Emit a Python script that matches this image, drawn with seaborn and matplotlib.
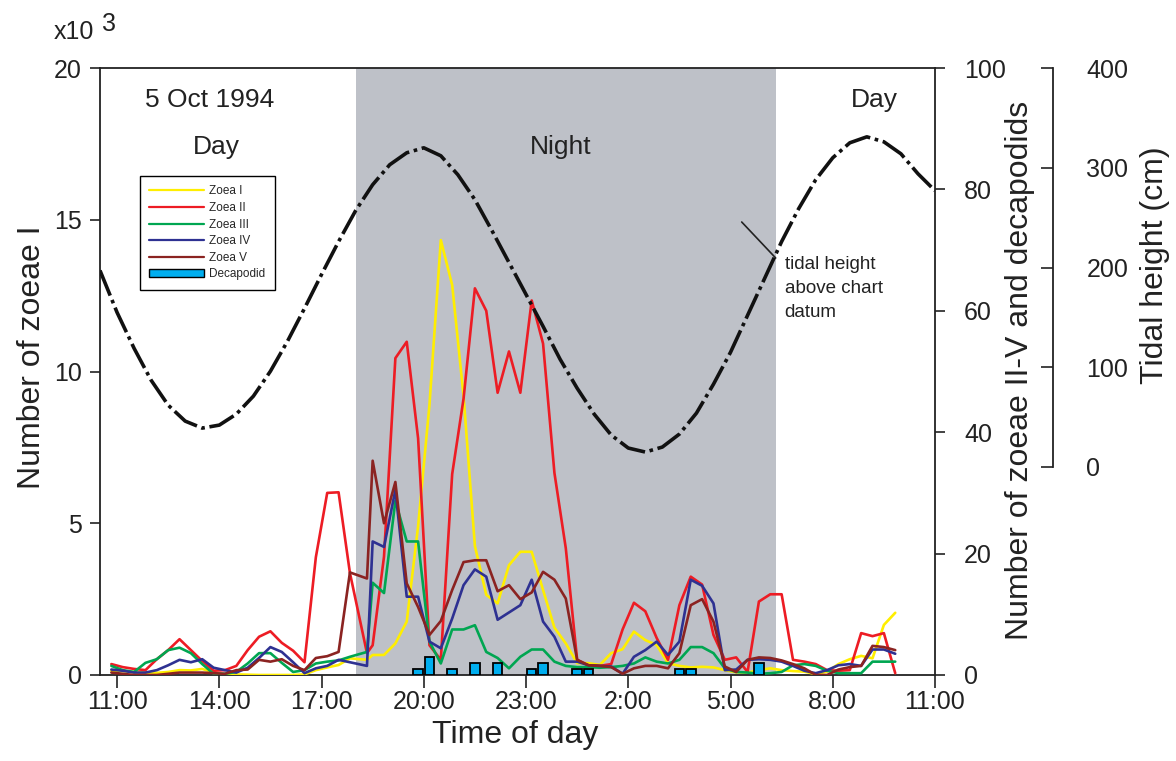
import numpy as np
import pandas as pd
import matplotlib
matplotlib.use("Agg")
import matplotlib.pyplot as plt
from matplotlib.lines import Line2D
from matplotlib.patches import Patch
import seaborn as sns

# ---- sampling times (5-6 Oct 1994) ----
sample_times = [
    "10:50", "11:10", "11:30", "11:50", "12:10", "12:30", "12:50", "13:10", "13:30", "13:50",
    "14:10", "14:30", "14:50", "15:10", "15:30", "15:50", "16:10", "16:30", "16:50", "17:10",
    "17:30", "17:50", "18:20", "18:30", "18:50", "19:10", "19:30", "19:50", "20:10", "20:30",
    "20:50", "21:10", "21:30", "21:50", "22:10", "22:30", "22:50", "23:10", "23:30", "23:50",
    "0:10", "0:30", "0:50", "1:10", "1:30", "1:50", "2:10", "2:30", "2:50", "3:10",
    "3:30", "3:50", "4:10", "4:30", "4:50", "5:10", "5:30", "5:50", "6:10", "6:30",
    "6:50", "7:10", "7:30", "7:50", "8:10", "8:30", "8:50", "9:10", "9:30", "9:50",
]

# Zoea I, thousands per sample (left axis)
zoea_1 = [
    0.14, 0.13, 0.10, 0.08, 0.07, 0.10, 0.16, 0.15, 0.20, 0.08,
    0.02, 0.02, 0.01, 0.00, 0.00, 0.00, 0.00, 0.02, 0.16, 0.25,
    0.33, 0.55, 0.50, 0.66, 0.66, 1.04, 1.76, 4.90, 8.90, 14.33,
    12.85, 9.20, 4.25, 2.64, 2.36, 3.62, 4.06, 4.06, 2.80, 1.56,
    1.04, 0.39, 0.39, 0.33, 0.72, 0.85, 1.43, 1.15, 0.99, 0.39,
    0.30, 0.25, 0.27, 0.25, 0.16, 0.09, 0.08, 0.16, 0.22, 0.16,
    0.13, 0.11, 0.03, 0.11, 0.36, 0.52, 0.63, 0.55, 1.65, 2.05,
]

# Zoea II-V and decapodids, numbers per sample (right axis)
zoea_2 = [
    1.8, 1.3, 1.0, 0.8, 2.6, 4.1, 5.9, 4.1, 2.3, 0.7,
    0.8, 1.5, 4.1, 6.3, 7.2, 5.3, 4.0, 2.1, 19.4, 30.0,
    30.1, 16.8, 3.6, 4.9, 19.5, 52.2, 54.9, 39.0, 4.9, 2.5,
    33.1, 45.5, 63.7, 60.0, 46.5, 53.3, 46.5, 61.7, 54.6, 33.3,
    20.9, 2.5, 1.6, 1.5, 1.8, 7.5, 11.9, 10.5, 6.1, 2.5,
    11.5, 16.2, 14.9, 6.6, 2.5, 2.9, 0.5, 12.1, 13.3, 13.3,
    2.5, 2.2, 1.8, 0.8, 0.7, 0.8, 6.9, 6.4, 6.9, 0.3,
]
zoea_3 = [
    1.5, 0.8, 0.5, 2.0, 2.6, 4.1, 4.5, 3.6, 1.8, 0.2,
    0.2, 0.5, 1.9, 3.6, 3.6, 2.0, 0.5, 0.8, 1.9, 2.2,
    2.4, 3.0, 3.8, 15.2, 13.5, 28.7, 22.0, 22.0, 5.5, 1.9,
    7.5, 7.5, 8.2, 3.8, 2.8, 1.1, 3.0, 4.2, 4.2, 2.2,
    1.5, 1.3, 1.3, 1.2, 1.3, 1.5, 1.9, 2.9, 2.2, 1.9,
    2.5, 4.6, 4.6, 3.6, 1.1, 0.5, 0.4, 0.2, 0.3, 0.5,
    1.6, 1.8, 1.5, 0.7, 0.3, 0.3, 0.3, 2.2, 2.2, 2.2,
]
zoea_4 = [
    0.9, 0.7, 0.4, 0.4, 0.8, 1.6, 2.5, 2.1, 2.6, 1.2,
    0.8, 0.4, 1.2, 2.8, 4.6, 3.8, 2.1, 0.3, 1.1, 1.5,
    2.5, 2.1, 1.5, 22.0, 21.1, 30.5, 12.9, 12.9, 5.5, 4.4,
    9.3, 14.8, 17.4, 16.2, 9.1, 10.3, 11.5, 15.7, 8.8, 6.3,
    2.2, 2.2, 1.6, 1.5, 1.4, 0.2, 3.0, 4.1, 5.5, 3.3,
    5.5, 15.7, 14.7, 11.8, 0.8, 0.9, 2.5, 2.6, 2.5, 2.2,
    1.5, 0.7, 0.3, 0.8, 1.6, 1.8, 1.5, 4.2, 4.2, 3.5,
]
zoea_5 = [
    0.4, 0.2, 0.0, 0.0, 0.0, 0.2, 0.4, 0.4, 0.4, 0.3,
    0.2, 0.8, 0.9, 2.5, 2.2, 2.6, 1.5, 0.8, 2.8, 3.1,
    3.8, 16.9, 15.9, 35.3, 25.0, 31.8, 15.1, 11.2, 6.6, 8.9,
    14.0, 18.6, 18.9, 18.9, 13.8, 14.8, 12.5, 13.6, 17.0, 15.7,
    12.6, 2.5, 1.6, 1.5, 1.3, 0.2, 1.1, 1.5, 1.5, 1.1,
    3.6, 11.5, 12.5, 8.8, 1.4, 0.5, 2.5, 2.9, 2.8, 2.4,
    1.8, 1.1, 0.0, 0.0, 0.9, 1.3, 1.5, 4.8, 4.6, 4.1,
]
decapodids = [
    0, 0, 0, 0, 0, 0, 0, 0, 0, 0,
    0, 0, 0, 0, 0, 0, 0, 0, 0, 0,
    0, 0, 0, 0, 0, 0, 0, 1, 3, 0,
    1, 0, 2, 0, 2, 0, 0, 1, 2, 0,
    0, 1, 1, 0, 0, 0, 0, 0, 0, 0,
    1, 1, 0, 0, 0, 0, 0, 2, 0, 0,
    0, 0, 0, 0, 0, 0, 0, 0, 0, 0,
]

# ---- tidal height above chart datum (cm), half-hourly ----
tide_times = [
    "10:30", "11:00", "11:30", "12:00", "12:30", "13:00", "13:30", "14:00", "14:30", "15:00",
    "15:30", "16:00", "16:30", "17:00", "17:30", "18:00", "18:30", "19:00", "19:30", "20:00",
    "20:30", "21:00", "21:30", "22:00", "22:30", "23:00", "23:30", "0:00", "0:30", "1:00",
    "1:30", "2:00", "2:30", "3:00", "3:30", "4:00", "4:30", "5:00", "5:30", "6:00",
    "6:30", "7:00", "7:30", "8:00", "8:30", "9:00", "9:30", "10:00", "10:30", "11:00",
]
tide_height = [
    197, 155, 119, 87, 62, 46, 39, 42, 53, 71,
    96, 126, 159, 193, 226, 257, 283, 303, 315, 320,
    312, 293, 268, 237, 205, 173, 141, 108, 79, 53,
    32, 19, 15, 20, 33, 54, 83, 115, 152, 189,
    226, 259, 288, 310, 325, 331, 326, 314, 294, 277,
]

night_period = ("18:00", "6:20")
tick_times = ["11:00", "14:00", "17:00", "20:00", "23:00", "2:00", "5:00", "8:00", "11:00"]


def clock_to_hours(labels):
    """Convert a chronological list of clock strings to running hours."""
    out, offset, prev = [], 0.0, None
    for lab in labels:
        h, m = map(int, lab.split(":"))
        v = h + m / 60.0 + offset
        if prev is not None and v < prev:
            offset += 24.0
            v += 24.0
        out.append(v)
        prev = v
    return np.array(out)


t_samples = clock_to_hours(sample_times)
t_tide = clock_to_hours(tide_times)
t_night = clock_to_hours(list(night_period))
t_ticks = clock_to_hours(tick_times)

colors = {
    "Zoea I": "#FFEE00",
    "Zoea II": "#ED1C24",
    "Zoea III": "#00A651",
    "Zoea IV": "#2E3192",
    "Zoea V": "#8B2321",
}
decapod_color = "#00AEEF"
night_color = "#BEC1C8"

sns.set_style("ticks")
plt.rcParams["font.family"] = ["Liberation Sans", "DejaVu Sans"]

W, H = 1176, 761
fig = plt.figure(figsize=(W / 100, H / 100), dpi=100)

x0, x1, y_top, y_bot = 100, 935, 68, 675
ax = fig.add_axes([x0 / W, 1 - y_bot / H, (x1 - x0) / W, (y_bot - y_top) / H])
ax2 = ax.twinx()
tide_bot = 467
ax3 = fig.add_axes([x0 / W, 1 - tide_bot / H, (x1 - x0) / W, (tide_bot - y_top) / H], sharex=ax)

# night shading
ax.axvspan(t_night[0], t_night[1], color=night_color, lw=0, zorder=0)

# Zoea I on the left axis
sns.lineplot(x=t_samples, y=zoea_1, ax=ax, color=colors["Zoea I"], lw=1.9,
             sort=False, legend=False, zorder=3)

# Zoea II-V on the right axis
long_df = pd.DataFrame({
    "hour": np.tile(t_samples, 4),
    "count": np.concatenate([zoea_2, zoea_3, zoea_4, zoea_5]),
    "stage": np.repeat(["Zoea II", "Zoea III", "Zoea IV", "Zoea V"], len(t_samples)),
})
sns.lineplot(data=long_df, x="hour", y="count", hue="stage", palette=colors,
             ax=ax2, lw=1.9, sort=False, legend=False, estimator=None)

# decapodid bars
dec = np.array(decapodids, dtype=float)
mask = dec > 0
ax2.bar(t_samples[mask], dec[mask], width=0.28, color=decapod_color,
        edgecolor="black", linewidth=1.3, zorder=4)

# tidal curve
sns.lineplot(x=t_tide, y=tide_height, ax=ax3, color="#111111", lw=2.6,
             linestyle=(0, (7.5, 1.3, 1.0, 1.3)), sort=False, legend=False)

# ---- axes formatting ----
ax.set_xlim(10.5, 35.0)
ax.set_ylim(0, 20)
ax2.set_ylim(0, 100)
ax3.set_ylim(0, 400)

ax.set_yticks([0, 5, 10, 15, 20])
ax2.set_yticks([0, 20, 40, 60, 80, 100])
ax3.set_yticks([0, 100, 200, 300, 400])
ax.set_xticks(t_ticks)
ax.set_xticklabels(tick_times)

ax.set_facecolor("white")
for s in ["top", "left", "bottom"]:
    ax.spines[s].set_visible(True)
    ax.spines[s].set_linewidth(1.3)
    ax.spines[s].set_color("#222222")
ax.spines["right"].set_visible(False)
for s in ["top", "left", "bottom"]:
    ax2.spines[s].set_visible(False)
ax2.spines["right"].set_linewidth(1.3)
ax2.spines["right"].set_color("#222222")

ax.tick_params(axis="y", direction="out", length=7, width=1.2, pad=6, labelsize=18,
               colors="#222222")
ax.tick_params(axis="x", direction="out", length=9, width=1.2, pad=2, labelsize=18,
               colors="#222222", top=False)
ax2.tick_params(axis="y", direction="out", length=7, width=1.2, pad=14, labelsize=18,
                colors="#222222")

ax3.patch.set_visible(False)
for s in ["top", "left", "bottom"]:
    ax3.spines[s].set_visible(False)
ax3.spines["right"].set_position(("axes", (1053 - x0) / (x1 - x0)))
ax3.spines["right"].set_linewidth(1.3)
ax3.spines["right"].set_color("#222222")
ax3.yaxis.tick_right()
ax3.tick_params(axis="y", direction="in", length=9, width=1.2, pad=24, labelsize=18,
                colors="#222222")
ax3.tick_params(axis="x", bottom=False, labelbottom=False)
ax3.set_xlabel("")
ax3.set_ylabel("")
ax.set_xlabel("")
ax.set_ylabel("")
ax2.set_ylabel("")

# axis titles
fig.text(32 / W, 1 - 357 / H, "Number of zoeae I", rotation=90, ha="center", va="center",
         fontsize=23, color="#222222")
fig.text(1020 / W, 1 - 370 / H, "Number of zoeae II-V and decapodids", rotation=90,
         ha="center", va="center", fontsize=23, color="#222222")
fig.text(1155 / W, 1 - 265 / H, "Tidal height (cm)", rotation=90, ha="center", va="center",
         fontsize=23, color="#222222")
fig.text(515 / W, 1 - 735 / H, "Time of day", ha="center", va="center", fontsize=23,
         color="#222222")
fig.text(54 / W, 1 - 32 / H, "x10", ha="left", va="center", fontsize=18, color="#222222")
fig.text(102 / W, 1 - 24 / H, "3", ha="left", va="center", fontsize=18, color="#222222")


def px_to_data(px, py):
    hx = 11 + (px - 117) / 34.1
    vy = (y_bot - py) / (y_bot - y_top) * 20
    return hx, vy


for txt, (px, py), size in [("5 Oct 1994", (210, 100), 19), ("Day", (216, 147), 19),
                            ("Night", (561, 147), 19), ("Day", (875, 100), 19)]:
    hx, vy = px_to_data(px, py)
    ax.text(hx, vy, txt, ha="center", va="center", fontsize=size, color="#222222", zorder=6)

hx, vy = px_to_data(785, 256)
ax.text(hx, vy, "tidal height\nabove chart\ndatum", ha="left", va="top", fontsize=13.5,
        linespacing=1.55, color="#222222", zorder=6)
ax.plot(*zip(px_to_data(742, 222), px_to_data(776, 258)), color="#222222", lw=1.2, zorder=6)

# legend
handles = [Line2D([0], [0], color=colors[k], lw=1.6) for k in colors]
handles.append(Patch(facecolor=decapod_color, edgecolor="black", linewidth=1.0))
labels = list(colors) + ["Decapodid"]
leg = fig.legend(handles, labels, loc="upper left", bbox_to_anchor=(140 / W, 1 - 176 / H),
                 fontsize=8.5, frameon=True, fancybox=False, framealpha=1,
                 edgecolor="black", handlelength=4.6, handletextpad=0.45,
                 labelspacing=0.39, borderpad=0.8, borderaxespad=0)
leg.get_frame().set_linewidth(1.0)

fig.savefig("out.png", dpi=100)
